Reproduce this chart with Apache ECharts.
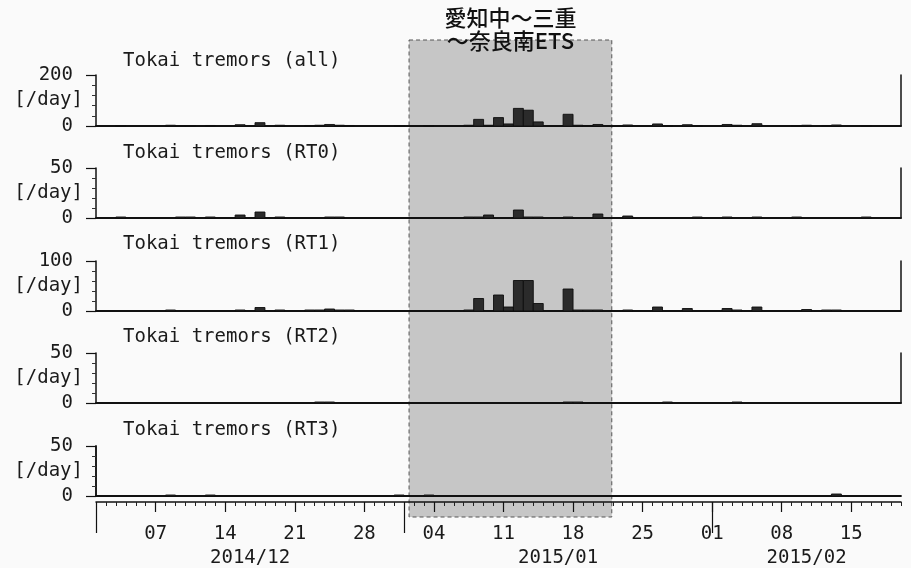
<!DOCTYPE html>
<html><head><meta charset="utf-8">
<script src="https://cdn.jsdelivr.net/npm/echarts@6/dist/echarts.min.js"></script>
<style>html,body{margin:0;padding:0;background:#fafafa}#c{width:911px;height:568px}</style>
</head><body><div id="c"></div>
<script>
// x values are day indices counted from 2014-12-01 (day 0); 81 daily bins to 2015-02-20
const startDate = '2014-12-01';
const numDays = 81;

const panelTitles = ['Tokai tremors (all)', 'Tokai tremors (RT0)', 'Tokai tremors (RT1)', 'Tokai tremors (RT2)', 'Tokai tremors (RT3)'];
const panelMax = [200, 50, 100, 50, 50];
const yUnit = '[/day]';

const countsAll = [
  0,0,1,0,0,0,0,3,1,1,
  0,2,0,0,5,0,13,0,3,0,
  0,2,3,6,3,2,0,0,0,0,
  1,0,0,1,0,0,0,3,26,3,
  33,8,69,62,16,0,0,46,3,2,
  6,0,0,4,0,0,8,1,0,5,
  1,0,0,6,3,0,9,0,0,0,
  1,3,0,2,4,0,0,1,0,0,
  0];
const countsRT0 = [
  0,0,1,0,0,0,0,0,1,1,
  0,1,0,0,3,0,6,0,1,0,
  0,0,0,1,1,0,0,0,0,0,
  0,0,0,0,0,0,0,1,1,3,
  0,0,8,1,1,0,0,1,0,0,
  4,0,0,2,0,0,0,0,0,0,
  1,0,0,1,0,0,1,0,0,0,
  1,0,0,0,0,0,0,1,0,0,
  0];
const countsRT1 = [
  0,0,0,0,0,0,0,2,0,0,
  0,0,0,0,2,0,7,0,2,0,
  0,2,2,4,2,2,0,0,0,0,
  0,0,0,0,0,0,0,2,25,0,
  32,8,61,61,15,0,0,44,2,2,
  2,0,0,2,0,0,8,0,0,5,
  0,0,0,5,2,0,8,0,0,0,
  0,3,0,2,2,0,0,0,0,0,
  0];
const countsRT2 = [
  0,0,0,0,0,0,0,0,0,0,
  0,0,0,0,0,0,0,0,0,0,
  0,0,1,1,0,0,0,0,0,0,
  0,0,0,0,0,0,0,0,0,0,
  0,0,0,0,0,0,0,1,1,0,
  0,0,0,0,0,0,0,1,0,0,
  0,0,0,0,1,0,0,0,0,0,
  0,0,0,0,0,0,0,0,0,0,
  0];
const countsRT3 = [
  0,0,0,0,0,0,0,1,0,0,
  0,1,0,0,0,0,0,0,0,0,
  0,0,0,0,0,0,0,0,0,0,
  1,0,0,1,0,0,0,0,0,0,
  0,0,0,0,0,0,0,0,0,0,
  0,0,0,0,0,0,0,0,0,0,
  0,0,0,0,0,0,0,0,0,0,
  0,0,0,0,2,0,0,0,0,0,
  0];
const panelCounts = [countsAll, countsRT0, countsRT1, countsRT2, countsRT3];

const weekTickDays = [6, 13, 20, 27, 34, 41, 48, 55, 62, 69, 76];
const weekTickLabels = ['07', '14', '21', '28', '04', '11', '18', '25', '01', '08', '15'];
const monthTickDays = [0, 31, 62];
const monthLabelDays = [15.5, 46.5, 71.5];
const monthLabels = ['2014/12', '2015/01', '2015/02'];

const shadeStartDay = 31.5;
const shadeEndDay = 51.9;
const shadeLabel = ['愛知中～三重', '～奈良南ETS'];

// ---- layout / style ----
const MONO = '"DejaVu Sans Mono", monospace';
const FS = 19;
const INK = '#1a1a1a';
const gridTops = [75, 168, 261, 353, 446];
const gridHeights = [51, 50, 50, 50, 50];
const titleCenters = [61, 153, 244, 337, 430];
const GL = 96, GR = 10;

const chart = echarts.init(document.getElementById('c'), null, {renderer: 'canvas'});

const grids = gridTops.map((t, i) => ({left: GL, right: GR, top: t, height: gridHeights[i], outerBoundsMode: 'none', containLabel: false}));
const lineStyle = {color: '#111', width: 1.5};
const xAxes = [], yAxes = [], series = [], titles = [];

panelTitles.forEach((name, i) => {
  xAxes.push({
    type: 'value', gridIndex: i, min: 0, max: numDays, position: 'bottom',
    axisLine: {show: true, onZero: false, lineStyle: {color: '#111', width: 1.8}},
    axisTick: {show: false}, axisLabel: {show: false}, splitLine: {show: false}
  });
  yAxes.push({
    type: 'value', gridIndex: i, min: 0, max: panelMax[i], interval: panelMax[i], position: 'left',
    axisLine: {show: true, lineStyle},
    axisTick: {show: true, length: 10, lineStyle: {color: '#111', width: 1.2}},
    minorTick: {show: true, splitNumber: 5, length: 4, lineStyle: {color: '#333', width: 1}},
    axisLabel: {margin: 23, fontSize: FS, fontFamily: MONO, color: INK},
    splitLine: {show: false}, minorSplitLine: {show: false},
    name: yUnit, nameLocation: 'middle', nameGap: 13, nameRotate: 0, nameMoveOverlap: false,
    nameTextStyle: {align: 'right', verticalAlign: 'middle', fontSize: FS, fontFamily: MONO, color: INK}
  });
  yAxes.push({
    type: 'value', gridIndex: i, min: 0, max: 1, position: 'right',
    axisLine: {show: true, lineStyle},
    axisTick: {show: false}, axisLabel: {show: false}, splitLine: {show: false}
  });
  titles.push({
    text: name, left: 123, top: titleCenters[i] - 10, padding: 0,
    textStyle: {fontFamily: MONO, fontSize: FS, fontWeight: 'normal', color: INK, lineHeight: 20}
  });
  series.push({
    type: 'custom', xAxisIndex: i, yAxisIndex: i * 2, z: 5,
    data: panelCounts[i].map((v, d) => [d, v]),
    renderItem: function (params, api) {
      const d = api.value(0), v = api.value(1);
      if (!v) return null;
      const p0 = api.coord([d, 0]);
      const p1 = api.coord([d + 1, v]);
      return {
        type: 'rect',
        shape: {x: p0[0], y: p1[1], width: p1[0] - p0[0], height: p0[1] - p1[1]},
        style: {fill: '#2b2b2b', stroke: '#0d0d0d', lineWidth: 0.9}
      };
    }
  });
});

// bottom date axis (on last grid, slightly below its zero line)
const baseBottom = {type: 'value', gridIndex: 4, position: 'bottom', offset: 6, min: 0, max: numDays, splitLine: {show: false}};
xAxes.push(Object.assign({}, baseBottom, {
  interval: 1,
  axisLine: {show: true, onZero: false, lineStyle},
  axisTick: {show: true, length: 4, lineStyle: {color: '#222', width: 1}},
  axisLabel: {show: false}
}));
xAxes.push(Object.assign({}, baseBottom, {
  axisLine: {show: false, onZero: false},
  axisTick: {show: true, length: 10, customValues: weekTickDays, lineStyle: {color: '#111', width: 1.2}},
  axisLabel: {show: true, customValues: weekTickDays, margin: 23, fontSize: FS, fontFamily: MONO, color: INK,
    formatter: v => weekTickLabels[weekTickDays.indexOf(v)] || ''}
}));
xAxes.push(Object.assign({}, baseBottom, {
  axisLine: {show: false, onZero: false},
  axisTick: {show: true, length: 31, customValues: monthTickDays, lineStyle: {color: '#111', width: 1.2}},
  axisLabel: {show: false}
}));
xAxes.push(Object.assign({}, baseBottom, {
  axisLine: {show: false, onZero: false},
  axisTick: {show: false},
  axisLabel: {show: true, customValues: monthLabelDays, margin: 47, fontSize: FS, fontFamily: MONO, color: INK,
    formatter: v => monthLabels[monthLabelDays.indexOf(v)] || ''}
}));

chart.setOption({
  backgroundColor: '#fafafa',
  animation: false,
  title: titles,
  grid: grids,
  xAxis: xAxes,
  yAxis: yAxes,
  series: series
});

// shaded period box spanning all panels, positioned through the x scale
const sx0 = chart.convertToPixel({xAxisIndex: 0}, shadeStartDay);
const sx1 = chart.convertToPixel({xAxisIndex: 0}, shadeEndDay);
const cx = (sx0 + sx1) / 2;
chart.setOption({
  graphic: [
    {type: 'rect', z: -1, shape: {x: sx0, y: 40, width: sx1 - sx0, height: 477},
      style: {fill: '#c6c6c6', stroke: '#555', lineWidth: 1, lineDash: [4, 3]}},
    {type: 'text', z: 10, x: cx, y: 18,
      style: {text: shadeLabel[0], font: '500 22px "Noto Sans CJK JP"', fill: '#111', align: 'center', verticalAlign: 'middle'}},
    {type: 'text', z: 10, x: cx, y: 41,
      style: {text: shadeLabel[1], font: '500 22px "Noto Sans CJK JP"', fill: '#111', align: 'center', verticalAlign: 'middle'}}
  ]
});
</script>
</body></html>
